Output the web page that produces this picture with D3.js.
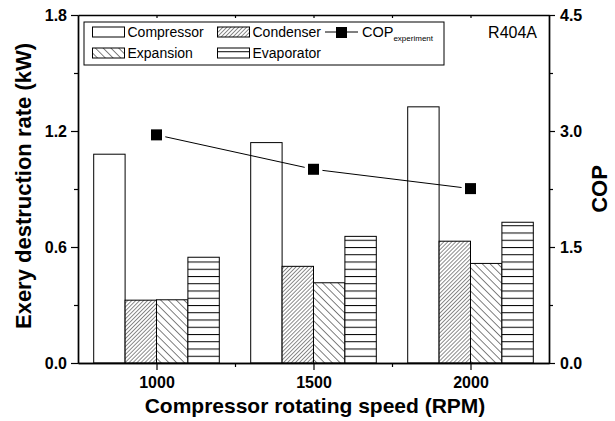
<!DOCTYPE html>
<html lang="en">
<head>
<meta charset="utf-8">
<script src="https://cdn.jsdelivr.net/npm/d3@7"></script>
<style>
  body { margin: 0; background: #fff; }
  text { font-family: "Liberation Sans", Arial, sans-serif; fill: #000; }
</style>
</head>
<body>
<script>
    // Data
    const speeds = [1000, 1500, 2000]
    const series = ['Compressor', 'Condenser', 'Expansion', 'Evaporator']
    const compressor = [1.08, 1.14, 1.325]
    const condenser = [0.325, 0.50, 0.63]
    const expansion = [0.327, 0.415, 0.515]
    const evaporator = [0.547, 0.655, 0.728]
    const cop = [2.95, 2.505, 2.255]
    const leftTicks = [0.0, 0.6, 1.2, 1.8]
    const rightTicks = [0.0, 1.5, 3.0, 4.5]

    const values = [compressor, condenser, expansion, evaporator]
    const fills = ['white', 'url(#hatchFwd)', 'url(#hatchBack)', 'url(#hatchHoriz)']

    const w = 615, h = 421
    const margin = {left: 78, right: 66, top: 15, bottom: 58}

    const svg = d3.select('body').append('svg')
        .attr('width', w)
        .attr('height', h)

    // patterns for the bars
    const defs = svg.append('defs')
    function hatch(id, size, angle, sw) {
        const p = defs.append('pattern')
            .attr('id', id)
            .attr('patternUnits', 'userSpaceOnUse')
            .attr('width', size).attr('height', size)
            .attr('patternTransform', 'rotate(' + angle + ')')
        p.append('rect').attr('width', size).attr('height', size).attr('fill', '#fff')
        p.append('line')
            .attr('x1', 0).attr('y1', 0).attr('x2', 0).attr('y2', size)
            .attr('stroke', '#000').attr('stroke-width', sw)
    }
    hatch('hatchFwd', 2.8, 45, 0.9)
    hatch('hatchBack', 5.5, -45, 1)
    // horizontal lines, aligned to the baseline
    const ph = defs.append('pattern')
        .attr('id', 'hatchHoriz')
        .attr('patternUnits', 'userSpaceOnUse')
        .attr('width', 10).attr('height', 7.25)
        .attr('y', 363 - 7.25 * 50)
    ph.append('rect').attr('width', 10).attr('height', 7.25).attr('fill', '#fff')
    ph.append('line')
        .attr('x1', 0).attr('x2', 10).attr('y1', 0.5).attr('y2', 0.5)
        .attr('stroke', '#000').attr('stroke-width', 1)

    // scales
    const x = d3.scaleLinear().domain([750, 2250]).range([margin.left, w - margin.right])
    const y = d3.scaleLinear().domain([0, 1.8]).range([h - margin.bottom, margin.top])
    const yCop = d3.scaleLinear().domain([0, 4.5]).range([h - margin.bottom, margin.top])
    const barW = 100  // in RPM units

    // bars
    series.forEach(function(name, si) {
        svg.append('g').selectAll('rect')
            .data(values[si])
            .enter()
            .append('rect')
            .attr('x', function(d, i) { return x(speeds[i] + (si - 2) * barW) })
            .attr('width', function(d, i) { return x(speeds[i] + (si - 1) * barW) - x(speeds[i] + (si - 2) * barW) })
            .attr('y', function(d) { return y(d) })
            .attr('height', function(d) { return y(0) - y(d) })
            .attr('fill', fills[si])
            .attr('stroke', '#000')
            .attr('stroke-width', 1)
    })

    // COP line with small gaps at the markers
    const gap = 9
    const pts = cop.map(function(c, i) { return [x(speeds[i]), yCop(c)] })
    for (let i = 0; i < pts.length - 1; i++) {
        const a = pts[i], b = pts[i + 1]
        const dx = b[0] - a[0], dy = b[1] - a[1], len = Math.hypot(dx, dy)
        svg.append('line')
            .attr('x1', a[0] + dx / len * gap).attr('y1', a[1] + dy / len * gap)
            .attr('x2', b[0] - dx / len * gap).attr('y2', b[1] - dy / len * gap)
            .attr('stroke', '#000').attr('stroke-width', 1)
    }
    svg.append('g').selectAll('rect')
        .data(cop)
        .enter()
        .append('rect')
        .attr('x', function(d, i) { return x(speeds[i]) - 5.5 })
        .attr('y', function(d) { return yCop(d) - 5.5 })
        .attr('width', 11).attr('height', 11)
        .attr('fill', '#000')

    // axes
    function styleAxis(g) {
        g.select('.domain').attr('stroke', '#000').attr('stroke-width', 1.4)
        g.selectAll('.tick line').attr('stroke', '#000').attr('stroke-width', 1.2)
        g.selectAll('text')
            .style('font-family', '"Liberation Sans", Arial, sans-serif')
            .style('font-weight', 'bold')
            .style('font-size', '16px')
            .attr('fill', '#000')
    }
    const bottom = h - margin.bottom

    svg.append('g')
        .attr('transform', 'translate(0,' + bottom + ')')
        .call(d3.axisBottom(x).tickValues(speeds).tickSize(7).tickSizeOuter(0).tickPadding(7).tickFormat(d3.format('d')))
        .call(styleAxis)
    svg.append('g')
        .attr('transform', 'translate(0,' + bottom + ')')
        .call(d3.axisBottom(x).tickValues([1250, 1750]).tickSize(4).tickSizeOuter(0).tickFormat(''))
        .call(styleAxis)
    svg.append('g')
        .attr('transform', 'translate(0,' + margin.top + ')')
        .call(d3.axisTop(x).tickValues([1000, 1250, 1500, 1750, 2000]).tickSize(-3).tickSizeOuter(0).tickFormat(''))
        .call(styleAxis)

    svg.append('g')
        .attr('transform', 'translate(' + margin.left + ',0)')
        .call(d3.axisLeft(y).tickValues(leftTicks).tickSize(7).tickSizeOuter(0).tickPadding(4).tickFormat(d3.format('.1f')))
        .call(styleAxis)
    svg.append('g')
        .attr('transform', 'translate(' + margin.left + ',0)')
        .call(d3.axisLeft(y).tickValues([0.3, 0.9, 1.5]).tickSize(4).tickSizeOuter(0).tickFormat(''))
        .call(styleAxis)

    svg.append('g')
        .attr('transform', 'translate(' + (w - margin.right) + ',0)')
        .call(d3.axisRight(yCop).tickValues(rightTicks).tickSize(6).tickSizeOuter(0).tickPadding(5).tickFormat(d3.format('.1f')))
        .call(styleAxis)
    svg.append('g')
        .attr('transform', 'translate(' + (w - margin.right) + ',0)')
        .call(d3.axisRight(yCop).tickValues([0.75, 2.25, 3.75]).tickSize(4).tickSizeOuter(0).tickFormat(''))
        .call(styleAxis)

    // axis titles
    svg.append('text')
        .attr('x', 315).attr('y', 413)
        .attr('text-anchor', 'middle')
        .style('font-weight', 'bold').style('font-size', '21px')
        .text('Compressor rotating speed (RPM)')
    svg.append('text')
        .attr('transform', 'translate(31,186) rotate(-90)')
        .attr('text-anchor', 'middle')
        .style('font-weight', 'bold').style('font-size', '22px')
        .text('Exery destruction rate (kW)')
    svg.append('text')
        .attr('transform', 'translate(607,189) rotate(-90)')
        .attr('text-anchor', 'middle')
        .style('font-weight', 'bold').style('font-size', '22px')
        .text('COP')

    svg.append('text')
        .attr('x', 537).attr('y', 38)
        .attr('text-anchor', 'end')
        .style('font-size', '16px')
        .text('R404A')

    // legend
    const lg = svg.append('g')
    lg.append('rect')
        .attr('x', 84).attr('y', 22).attr('width', 360).attr('height', 43)
        .attr('fill', 'white').attr('stroke', '#000').attr('stroke-width', 1)
    const legendPos = [[92.5, 27], [217.5, 27], [92.5, 48], [217.5, 48]]
    series.forEach(function(name, si) {
        const p = legendPos[si]
        lg.append('rect')
            .attr('x', p[0]).attr('y', p[1]).attr('width', 32).attr('height', 10)
            .attr('fill', fills[si]).attr('stroke', '#000').attr('stroke-width', 1)
        lg.append('text')
            .attr('x', p[0] + 35).attr('y', p[1] + 10)
            .style('font-size', '14px')
            .text(name)
    })
    lg.append('line')
        .attr('x1', 325).attr('x2', 358).attr('y1', 32).attr('y2', 32)
        .attr('stroke', '#000').attr('stroke-width', 1)
    lg.append('rect')
        .attr('x', 336).attr('y', 27).attr('width', 11).attr('height', 11)
        .attr('fill', '#000')
    const copText = lg.append('text').attr('x', 362).attr('y', 37).style('font-size', '14.5px')
    copText.append('tspan').text('COP')
    copText.append('tspan').attr('dy', 4).style('font-size', '8px').text('experiment')
</script>
</body>
</html>
